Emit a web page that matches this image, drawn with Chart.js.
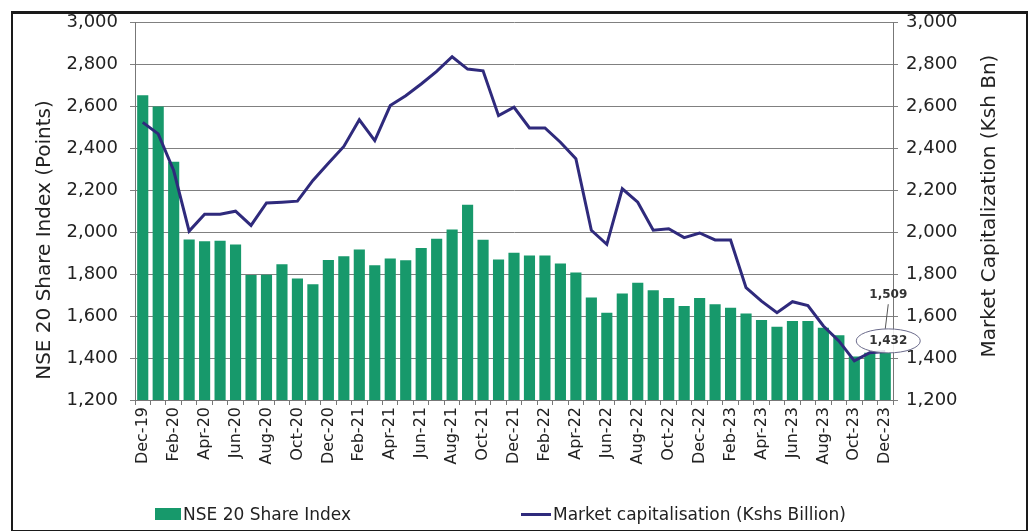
<!DOCTYPE html>
<html>
<head>
<meta charset="utf-8">
<script src="https://cdn.jsdelivr.net/npm/chart.js@4.4.1/dist/chart.umd.min.js"></script>
<style>
    html, body { margin: 0; padding: 0; background: #fff; }
    #wrap { position: relative; width: 1031px; height: 531px; overflow: hidden; }
    #frame {
        position: absolute; left: 11px; top: 11px; width: 1013px; height: 516px;
        border: 2px solid #1a1a1a; border-top-width: 3px; pointer-events: none;
    }
    .legend {
        position: absolute; top: 504px; font-family: "DejaVu Sans", sans-serif;
        font-size: 17px; color: #222; display: flex; align-items: center; white-space: nowrap;
    }
    .legend .box { width: 26px; height: 12px; background: #17996b; margin-right: 2px; }
    .legend .ln { width: 30px; height: 3px; background: #2f2a7c; margin-right: 2px; }
</style>
</head>
<body>
<div id="wrap">
    <canvas id="chart" width="1031" height="531"></canvas>
    <div id="frame"></div>
    <div class="legend" style="left:155px;"><span class="box"></span>NSE 20 Share Index</div>
    <div class="legend" style="left:521px;"><span class="ln"></span>Market capitalisation (Kshs Billion)</div>
</div>
<script>
const months = [
    "Dec-19", "Jan-20", "Feb-20", "Mar-20", "Apr-20", "May-20", "Jun-20", "Jul-20", "Aug-20", "Sep-20", "Oct-20", "Nov-20",
    "Dec-20", "Jan-21", "Feb-21", "Mar-21", "Apr-21", "May-21", "Jun-21", "Jul-21", "Aug-21", "Sep-21", "Oct-21", "Nov-21",
    "Dec-21", "Jan-22", "Feb-22", "Mar-22", "Apr-22", "May-22", "Jun-22", "Jul-22", "Aug-22", "Sep-22", "Oct-22", "Nov-22",
    "Dec-22", "Jan-23", "Feb-23", "Mar-23", "Apr-23", "May-23", "Jun-23", "Jul-23", "Aug-23", "Sep-23", "Oct-23", "Nov-23",
    "Dec-23"
];

// NSE 20 Share Index (points)
const nse20 = [
    2654, 2600, 2337, 1966, 1958, 1960, 1942, 1797, 1798, 1848, 1780, 1752,
    1868, 1886, 1918, 1843, 1875, 1867, 1925, 1970, 2014, 2132, 1965, 1870,
    1903, 1890, 1890, 1851, 1808, 1689, 1616, 1708, 1759, 1724, 1687, 1649,
    1687, 1657, 1640, 1613, 1582, 1550, 1577, 1577, 1545, 1509, 1407, 1425,
    1428
];

// Market capitalisation (Kshs billion)
const marketCap = [
    2525, 2470, 2295, 2006, 2086, 2086, 2101, 2033, 2140, 2144, 2149, 2248,
    2330, 2410, 2537, 2438, 2605, 2652, 2708, 2768, 2838, 2779, 2771, 2557,
    2597, 2498, 2498, 2430, 2351, 2010, 1943, 2208, 2144, 2010, 2017, 1975,
    1997, 1964, 1963, 1736, 1672, 1617, 1669, 1651, 1553, 1482, 1387, 1426,
    1432
];

const axisMin = 1200;
const axisMax = 3000;
const axisStep = 200;

// callouts at the last month
const calloutTop = { text: "1,509", value: 1700 };
const calloutCircle = { text: "1,432", value: 1482 };
const leftTitle = "NSE 20 Share Index (Points)";
const rightTitle = "Market Capitalization (Ksh Bn)";

const fmt = v => v.toLocaleString("en-US");
const FONT = "'DejaVu Sans', sans-serif";

function drawVerticalText(ctx, text, x, y, size) {
    ctx.save();
    ctx.translate(x, y);
    ctx.rotate(-Math.PI / 2);
    ctx.font = size + "px " + FONT;
    ctx.fillStyle = "#222";
    ctx.textAlign = "center";
    ctx.textBaseline = "middle";
    ctx.fillText(text, 0, 0);
    ctx.restore();
}

const calloutPlugin = {
    id: "callouts",
    afterDatasetsDraw(chart) {
        const { ctx, scales } = chart;
        const x = scales.x.getPixelForValue(months.length - 1) + 3;
        const yTop = scales.y.getPixelForValue(calloutTop.value);
        const yCirc = scales.y.getPixelForValue(calloutCircle.value);
        ctx.save();
        ctx.font = "bold 12px " + FONT;
        ctx.textAlign = "center";
        ctx.textBaseline = "middle";
        ctx.fillStyle = "#333";
        ctx.fillText(calloutTop.text, x, yTop);
        ctx.strokeStyle = "#555";
        ctx.lineWidth = 1;
        ctx.beginPath();
        ctx.moveTo(x, yTop + 9);
        ctx.lineTo(x - 3, yCirc - 12);
        ctx.stroke();
        ctx.beginPath();
        ctx.ellipse(x, yCirc, 32, 12, 0, 0, Math.PI * 2);
        ctx.fillStyle = "rgba(255,255,255,0.85)";
        ctx.fill();
        ctx.strokeStyle = "#6a6a8a";
        ctx.stroke();
        ctx.fillStyle = "#333";
        ctx.fillText(calloutCircle.text, x, yCirc);
        ctx.restore();
    },
    afterDraw(chart) {
        // both axis titles read bottom-to-top
        drawVerticalText(chart.ctx, leftTitle, 45, 240, 20);
        drawVerticalText(chart.ctx, rightTitle, 990, 206, 20);
    }
};

new Chart(document.getElementById("chart"), {
    data: {
        labels: months,
        datasets: [
            {
                type: "line",
                label: "Market capitalisation (Kshs Billion)",
                data: marketCap,
                yAxisID: "y1",
                borderColor: "#2f2a7c",
                borderWidth: 3,
                pointRadius: 0,
                tension: 0,
                order: 0
            },
            {
                type: "bar",
                label: "NSE 20 Share Index",
                data: nse20,
                yAxisID: "y",
                backgroundColor: "#17996b",
                barPercentage: 0.72,
                categoryPercentage: 1,
                order: 1
            }
        ]
    },
    options: {
        responsive: false,
        animation: false,
        layout: { padding: { left: 14, right: 6, top: 22, bottom: 0 } },
        plugins: {
            legend: { display: false },
            tooltip: { enabled: false }
        },
        scales: {
            x: {
                afterFit: s => { s.height = 131; },
                grid: { display: true, drawOnChartArea: false, tickLength: 5, color: "#777" },
                border: { color: "#777" },
                ticks: {
                    autoSkip: false,
                    maxRotation: 90,
                    minRotation: 90,
                    padding: 2,
                    color: "#222",
                    font: { family: FONT, size: 16 },
                    callback: (v, i) => (i % 2 === 0 ? months[i] : "")
                }
            },
            y: {
                position: "left",
                min: axisMin,
                max: axisMax,
                afterFit: s => { s.width = 121; },
                grid: { color: "#808080", tickLength: 5 },
                border: { color: "#777" },
                ticks: {
                    stepSize: axisStep,
                    padding: 12,
                    color: "#222",
                    font: { family: FONT, size: 18 },
                    callback: v => fmt(v)
                }
            },
            y1: {
                position: "right",
                min: axisMin,
                max: axisMax,
                afterFit: s => { s.width = 132; },
                grid: { drawOnChartArea: false, tickLength: 5, color: "#808080" },
                border: { color: "#777" },
                ticks: {
                    stepSize: axisStep,
                    padding: 8,
                    color: "#222",
                    font: { family: FONT, size: 18 },
                    callback: v => fmt(v)
                }
            }
        }
    },
    plugins: [calloutPlugin]
});
</script>
</body>
</html>
